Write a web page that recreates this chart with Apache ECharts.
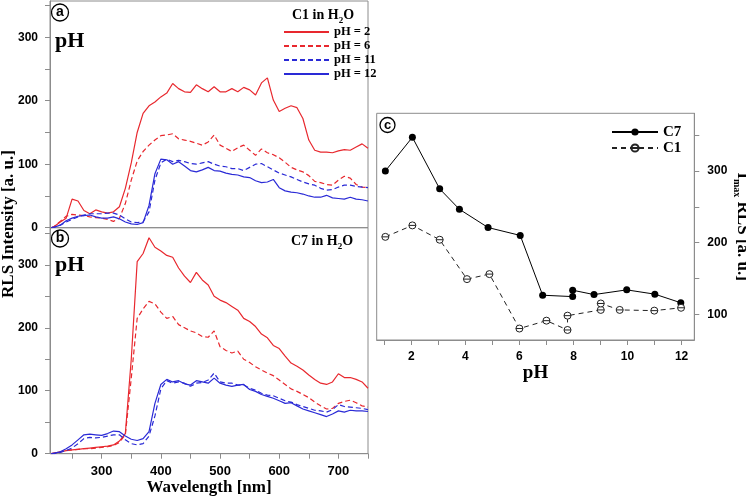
<!DOCTYPE html>
<html><head><meta charset="utf-8">
<script src="https://cdn.jsdelivr.net/npm/echarts@6/dist/echarts.min.js"></script>
<style>html,body{margin:0;padding:0;background:#fff}#c{width:746px;height:496px}</style>
</head><body><div id="c"></div>
<script>
// ---------- data ----------
const wavelength = [215,220,230,240,250,260,270,280,290,300,310,320,330,340,350,360,370,380,390,400,410,420,430,440,450,460,470,480,490,500,510,520,530,540,550,560,570,580,590,600,610,620,630,640,650,660,670,680,690,700,710,720,730,740,750];
// panel a: C1 in H2O
const aPH2  = [0,2,9,15,45,42,27,22,28,25,23,25,33,62,102,150,180,192,198,206,212,227,219,214,213,225,219,214,222,214,214,219,214,221,217,209,228,236,201,183,188,192,189,172,138,122,119,119,118,121,123,122,127,132,125];
const aPH6  = [0,2,10,18,21,20,19,17,16,15,13,10,15,38,75,105,120,130,138,145,146,148,140,138,136,133,130,135,146,130,125,120,126,130,122,114,124,118,115,110,103,95,91,88,82,73,71,68,67,75,81,78,68,64,63];
const aPH11 = [0,1,4,9,13,17,20,22,22,22,23,23,20,14,9,8,9,25,75,102,108,104,106,104,101,100,102,104,100,97,96,93,93,90,95,100,101,96,91,86,83,80,76,72,69,67,62,59,60,64,67,67,65,64,63];
const aPH12 = [0,1,4,11,15,18,19,20,17,15,15,17,14,9,6,5,8,35,85,108,107,100,104,97,90,88,91,95,90,89,86,84,83,80,79,74,71,72,76,63,58,56,55,53,50,48,48,51,47,46,45,48,45,44,42];
// panel b: C7 in H2O
const bPH2  = [0,1,3,5,6,7,8,9,10,11,12,14,20,32,150,305,318,343,328,322,315,312,295,282,272,288,276,268,250,244,240,234,228,215,210,202,190,184,172,167,155,144,139,133,125,118,112,110,114,127,121,121,118,114,104];
const bPH6  = [0,1,3,5,6,7,8,8,9,10,11,13,18,30,120,215,230,242,238,225,215,218,205,200,195,192,186,185,195,170,164,160,163,150,145,138,133,128,124,117,110,103,99,94,89,82,76,71,72,80,83,85,81,76,74];
const bPH11 = [0,0,2,5,9,16,24,26,25,26,28,30,30,22,16,14,16,28,60,103,116,112,114,112,107,112,113,117,128,114,112,112,109,109,104,101,96,93,92,88,84,82,78,75,72,69,68,66,70,78,75,74,73,72,70];
const bPH12 = [0,1,3,8,14,22,30,31,30,29,32,36,35,28,23,21,24,35,80,110,118,114,116,111,109,116,114,112,120,112,109,107,109,110,102,99,94,91,88,84,80,81,76,71,68,65,62,59,63,68,66,69,68,68,67];
const seriesNames = ['pH = 2','pH = 6','pH = 11','pH = 12'];
// panel c: Imax vs pH
const phC7  = [1.04,2.04,3.05,3.78,4.84,6.03,6.86,7.97,7.97,8.76,9.97,11.01,11.97];
const valC7 = [300,347,275,246.5,221,210,126.5,124.6,133.5,127.4,134,128,116];
const phC1  = [1.04,2.04,3.05,4.06,4.89,6.0,7.0,7.78,7.78,9.01,9.01,9.71,10.99,11.98];
const valC1 = [208,224,204,149,156,80,91,78,98,106,115,106,105,109];
// ticks
const wlTicks  = [250,300,350,400,450,500,550,600,650,700,750];
const wlLabels = [300,400,500,600,700];
const intTicks  = [0,50,100,150,200,250,300,350];
const intLabels = [0,100,200,300];
const phTicks  = [1,2,3,4,5,6,7,8,9,10,11,12];
const phLabels = [2,4,6,8,10,12];
const imaxTicks  = [100,150,200,250,300,350];
const imaxLabels = [100,200,300];

// ---------- styles ----------
const RED = '#e8282e', BLUE = '#2a2ad6', GREY = '#8c8c8c';
const SERIF = '"Liberation Serif","Times New Roman",serif';
const SANS = '"Liberation Sans",Arial,sans-serif';
const lblStyle = {fontFamily: SANS, fontWeight: 'bold', fontSize: 12, color: '#000'};
const pair = (xs, ys) => xs.map((x, i) => [x, ys[i]]);

function specSeries(name, arr, idx, color, dashed) {
  return {
    name, type: 'line', xAxisIndex: idx, yAxisIndex: idx,
    data: pair(wavelength, arr), symbol: 'none', silent: true,
    lineStyle: {color, width: 1.2, type: dashed ? [5, 3] : 'solid'},
    itemStyle: {color}
  };
}
function valAxisY(grid, max, pos) {
  return {
    type: 'value', gridIndex: grid, min: 0, max, position: pos || 'left',
    splitLine: {show: false},
    axisLine: {show: true, lineStyle: {color: GREY}},
    axisTick: {show: true, length: 5, customValues: intTicks, lineStyle: {color: GREY}},
    axisLabel: Object.assign({margin: 12, customValues: intLabels}, lblStyle)
  };
}
const C1SYM = 'path://M0,5A5,5 0 1 1 10,5A5,5 0 1 1 0,5ZM0,5L10,5';

const option = {
  animation: false,
  backgroundColor: '#fff',
  grid: [
    {left: 50, top: 1, width: 318, height: 226.7, show: true, borderColor: GREY, borderWidth: 1, containLabel: false, outerBoundsMode: 'none'},
    {left: 50, top: 227.7, width: 318, height: 226, show: true, borderColor: GREY, borderWidth: 1, containLabel: false, outerBoundsMode: 'none'},
    {left: 376.7, top: 113.3, width: 317.6, height: 226.7, show: true, borderColor: GREY, borderWidth: 1, containLabel: false, outerBoundsMode: 'none'}
  ],
  xAxis: [
    {type: 'value', gridIndex: 0, min: 212.7, max: 750, splitLine: {show: false},
     axisLine: {show: false}, axisTick: {show: false}, axisLabel: {show: false}},
    {type: 'value', gridIndex: 1, min: 212.7, max: 750, splitLine: {show: false},
     axisLine: {show: true, lineStyle: {color: GREY}},
     axisTick: {show: true, length: 5, customValues: wlTicks, lineStyle: {color: GREY}},
     axisLabel: Object.assign({margin: 11, customValues: wlLabels}, lblStyle, {fontSize: 13}),
     name: 'Wavelength [nm]', nameLocation: 'middle', nameGap: 25,
     nameTextStyle: {fontFamily: SERIF, fontWeight: 'bold', fontSize: 17, color: '#000'}},
    {type: 'value', gridIndex: 2, min: 0.72, max: 12.47, splitLine: {show: false},
     axisLine: {show: true, lineStyle: {color: GREY}},
     axisTick: {show: true, length: 5, customValues: phTicks, lineStyle: {color: GREY}},
     axisLabel: Object.assign({margin: 11, customValues: phLabels}, lblStyle),
     name: 'pH', nameLocation: 'middle', nameGap: 22,
     nameTextStyle: {fontFamily: SERIF, fontWeight: 'bold', fontSize: 19, color: '#000'}}
  ],
  yAxis: [
    valAxisY(0, 357),
    valAxisY(1, 359),
    {type: 'value', gridIndex: 2, min: 64, max: 380.5, position: 'right',
     splitLine: {show: false},
     axisLine: {show: true, lineStyle: {color: GREY}},
     axisTick: {show: true, length: 5, customValues: imaxTicks, lineStyle: {color: GREY}},
     axisLabel: Object.assign({margin: 13, customValues: imaxLabels}, lblStyle),
     name: '{n|I}{s|max}{n| RLS [a. u.]}', nameLocation: 'middle', nameRotate: -90, nameGap: 29,
     nameTextStyle: {fontFamily: SERIF, fontWeight: 'bold', fontSize: 17, color: '#000',
       rich: {
         n: {fontFamily: SERIF, fontWeight: 'bold', fontSize: 17, color: '#000', lineHeight: 22, verticalAlign: 'middle'},
         s: {fontFamily: SERIF, fontWeight: 'bold', fontSize: 10, color: '#000', lineHeight: 10, verticalAlign: 'bottom'}
       }}}
  ],
  legend: [
    {data: seriesNames, orient: 'vertical', left: 278, top: 20, itemWidth: 45, itemHeight: 10, itemGap: 0,
     selectedMode: false, itemStyle: {opacity: 0},
     textStyle: {fontFamily: SERIF, fontWeight: 'bold', fontSize: 12.5, lineHeight: 14, color: '#000'}},
    {data: ['C7', 'C1'], orient: 'vertical', left: 606, top: 119, itemWidth: 46, itemHeight: 9, itemGap: 0,
     selectedMode: false,
     textStyle: {fontFamily: SERIF, fontWeight: 'bold', fontSize: 15, lineHeight: 16, color: '#000'}}
  ],
  series: [
    specSeries(seriesNames[0], aPH2, 0, RED, false),
    specSeries(seriesNames[1], aPH6, 0, RED, true),
    specSeries(seriesNames[2], aPH11, 0, BLUE, true),
    specSeries(seriesNames[3], aPH12, 0, BLUE, false),
    specSeries(seriesNames[0], bPH2, 1, RED, false),
    specSeries(seriesNames[1], bPH6, 1, RED, true),
    specSeries(seriesNames[2], bPH11, 1, BLUE, true),
    specSeries(seriesNames[3], bPH12, 1, BLUE, false),
    {name: 'C7', type: 'line', xAxisIndex: 2, yAxisIndex: 2, data: pair(phC7, valC7),
     symbol: 'circle', symbolSize: 7, showAllSymbol: true, silent: true,
     lineStyle: {color: '#000', width: 1}, itemStyle: {color: '#000'}},
    {name: 'C1', type: 'line', xAxisIndex: 2, yAxisIndex: 2, data: pair(phC1, valC1),
     symbol: C1SYM, symbolSize: 7, showAllSymbol: true, silent: true,
     lineStyle: {color: '#222', width: 1, type: [5, 4]},
     itemStyle: {color: '#fff', borderColor: '#222', borderWidth: 1}}
  ],
  graphic: [
    {type: 'circle', shape: {cx: 60, cy: 12.5, r: 8.5}, style: {fill: 'none', stroke: '#000', lineWidth: 1.3}},
    {type: 'text', x: 60, y: 12.5, style: {text: 'a', fill: '#000', font: 'bold 14px ' + SANS, textAlign: 'center', textVerticalAlign: 'middle'}},
    {type: 'circle', shape: {cx: 60, cy: 238.5, r: 8.5}, style: {fill: 'none', stroke: '#000', lineWidth: 1.3}},
    {type: 'text', x: 60, y: 238.5, style: {text: 'b', fill: '#000', font: 'bold 14px ' + SANS, textAlign: 'center', textVerticalAlign: 'middle'}},
    {type: 'circle', shape: {cx: 387.5, cy: 125, r: 7.5}, style: {fill: 'none', stroke: '#000', lineWidth: 1.3}},
    {type: 'text', x: 387.5, y: 125, style: {text: 'c', fill: '#000', font: 'bold 13px ' + SANS, textAlign: 'center', textVerticalAlign: 'middle'}},
    {type: 'text', x: 55, y: 41, style: {text: 'pH', fill: '#000', font: 'bold 22px ' + SERIF, textAlign: 'left', textVerticalAlign: 'middle'}},
    {type: 'text', x: 55, y: 265, style: {text: 'pH', fill: '#000', font: 'bold 22px ' + SERIF, textAlign: 'left', textVerticalAlign: 'middle'}},
    {type: 'text', x: 323, y: 15, style: {text: '{n|C1 in H}{s|2}{n|O}', textAlign: 'center', textVerticalAlign: 'middle',
      rich: {n: {font: 'bold 14px ' + SERIF, fill: '#000', lineHeight: 20, verticalAlign: 'middle'},
             s: {font: 'bold 9px ' + SERIF, fill: '#000', lineHeight: 9, verticalAlign: 'bottom'}}}},
    {type: 'text', x: 322, y: 241, style: {text: '{n|C7 in H}{s|2}{n|O}', textAlign: 'center', textVerticalAlign: 'middle',
      rich: {n: {font: 'bold 14px ' + SERIF, fill: '#000', lineHeight: 20, verticalAlign: 'middle'},
             s: {font: 'bold 9px ' + SERIF, fill: '#000', lineHeight: 9, verticalAlign: 'bottom'}}}},
    {type: 'text', x: 9, y: 224, rotation: Math.PI / 2,
     style: {text: 'RLS Intensity [a. u.]', fill: '#000', font: 'bold 17px ' + SERIF, textAlign: 'center', textVerticalAlign: 'middle'}}
  ]
};
const chart = echarts.init(document.getElementById('c'), null, {renderer: 'canvas'});
chart.setOption(option);
</script></body></html>
